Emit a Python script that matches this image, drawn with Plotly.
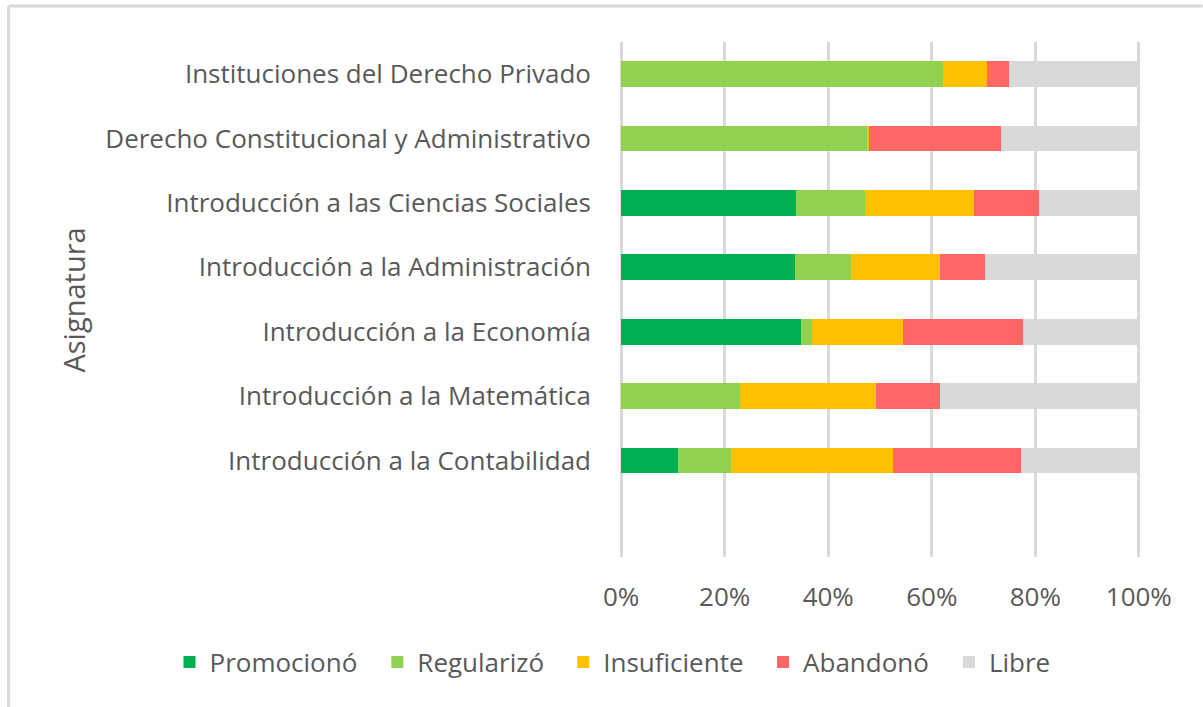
import plotly.graph_objects as go

asignaturas = [
    "Introducción a la Contabilidad",
    "Introducción a la Matemática",
    "Introducción a la Economía",
    "Introducción a la Administración",
    "Introducción a las Ciencias Sociales",
    "Derecho Constitucional y Administrativo",
    "Instituciones del Derecho Privado",
]
promociono = [11.0, 0.0, 34.7, 33.6, 33.8, 0.0, 0.0]
regularizo = [10.2, 23.0, 2.2, 10.8, 13.3, 47.5, 62.2]
insuficiente = [31.3, 26.2, 17.5, 17.2, 21.0, 0.4, 8.5]
abandono = [24.7, 12.4, 23.2, 8.7, 12.6, 25.5, 4.2]
libre = [22.8, 38.4, 22.4, 29.7, 19.3, 26.6, 25.1]

series = [
    ("Promocionó", promociono, "#00B050"),
    ("Regularizó", regularizo, "#92D050"),
    ("Insuficiente", insuficiente, "#FFC000"),
    ("Abandonó", abandono, "#FF6666"),
    ("Libre", libre, "#D9D9D9"),
]

FONT = "Open Sans"
TXT = "#595959"
FS = 26

# 0% at x=621 px, 100% at x=1139 px; pad the range by 1 unit each side
PAD = 1.0
UNIT = (1139 - 621) / 100.0
L, R, T, B = 621 - PAD * UNIT, 1139 + PAD * UNIT, 42, 557
W, H = 1203, 707
pw, ph = R - L, B - T

def px(x):
    return (x - L) / pw

def py(y):
    return (B - y) / ph

# legend entry text starts (pixel) in the reference
legend_text_x = [207, 415, 601, 801, 987]

fig = go.Figure()
legend_layouts = {}
for i, (name, vals, color) in enumerate(series):
    lid = "legend" if i == 0 else f"legend{i + 1}"
    fig.add_trace(go.Bar(
        y=asignaturas, x=vals, name=name, orientation="h",
        marker=dict(color=color, line=dict(width=0)), width=0.4,
        legend=lid,
    ))
    legend_layouts[lid] = dict(
        orientation="h", x=px(legend_text_x[i] - 38), xanchor="left",
        y=py(662), yanchor="middle",
        font=dict(family=FONT, size=FS, color=TXT),
        itemwidth=30, bgcolor="rgba(0,0,0,0)", borderwidth=0,
    )

fig.update_layout(
    barmode="stack",
    barnorm="percent",
    width=W, height=H,
    margin=dict(l=L, r=W - R, t=T, b=H - B, autoexpand=False),
    paper_bgcolor="white", plot_bgcolor="white",
    font=dict(family=FONT, size=FS, color=TXT),
    showlegend=True,
    xaxis=dict(range=[-PAD, 100 + PAD], tickvals=[0, 20, 40, 60, 80, 100],
               ticktext=["0%", "20%", "40%", "60%", "80%", "100%"],
               showgrid=True, gridcolor="rgba(0,0,0,0.15)", gridwidth=2.5,
               zeroline=False, showline=False, layer="above traces",
               ticks="", ticklabelstandoff=22, tickfont=dict(size=FS, color=TXT),
               fixedrange=True),
    yaxis=dict(type="category", categoryorder="array", categoryarray=asignaturas,
               range=[-1.5, 6.5], showgrid=False, zeroline=False, showline=False,
               ticks="", ticklabelstandoff=round(29 - PAD * UNIT), tickfont=dict(size=FS, color=TXT),
               fixedrange=True),
    annotations=[dict(text="Asignatura", x=px(72), y=py(300), xref="paper", yref="paper",
                      textangle=-90, showarrow=False, xanchor="center", yanchor="middle",
                      font=dict(family=FONT, size=29, color=TXT))],
    shapes=[
        dict(type="line", xref="paper", yref="paper", x0=px(8), x1=px(1203), y0=py(6), y1=py(6),
             line=dict(color="#D9D9D9", width=3)),
        dict(type="line", xref="paper", yref="paper", x0=px(8), x1=px(8), y0=py(6), y1=py(707),
             line=dict(color="#D9D9D9", width=3)),
    ],
    **legend_layouts,
)

fig.write_html("out.html", config={"displayModeBar": False},
               post_script="document.body.style.margin='0';")
